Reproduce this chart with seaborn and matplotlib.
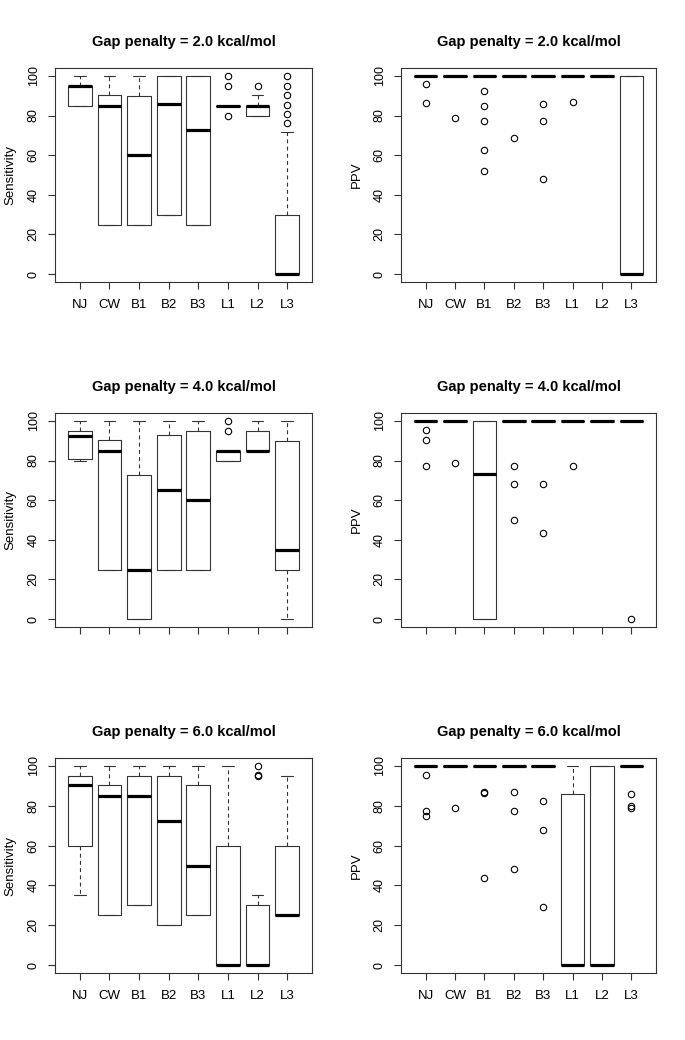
import matplotlib
matplotlib.use("Agg")
import matplotlib.pyplot as plt
import seaborn as sns

sns.set_style("ticks")
plt.rcParams['font.family'] = ['Liberation Sans', 'DejaVu Sans']
plt.rcParams['text.color'] = 'black'
plt.rcParams['axes.labelcolor'] = 'black'

methods = ["NJ", "CW", "B1", "B2", "B3", "L1", "L2", "L3"]
titles = ["Gap penalty = 2.0 kcal/mol", "Gap penalty = 4.0 kcal/mol", "Gap penalty = 6.0 kcal/mol"]
yticks = [0, 20, 40, 60, 80, 100]

# ---- Sensitivity, gap 2.0 ----
sens2_q1 = [85, 25, 25, 30, 25, 85, 80, 0]
sens2_med = [95, 85, 60, 86, 72.5, 85, 85, 0]
sens2_q3 = [95, 90.5, 90, 100, 100, 85, 85, 30]
sens2_lo = [85, 25, 25, 30, 25, 85, 80, 0]
sens2_hi = [100, 100, 100, 100, 100, 85, 90.5, 71.5]
sens2_fl = [[], [], [], [], [], [80, 95, 100], [95], [76, 81, 85.5, 90.5, 95, 100]]

# ---- PPV, gap 2.0 ----
ppv2_q1 = [100, 100, 100, 100, 100, 100, 100, 0]
ppv2_med = [100, 100, 100, 100, 100, 100, 100, 0]
ppv2_q3 = [100, 100, 100, 100, 100, 100, 100, 100]
ppv2_lo = [100, 100, 100, 100, 100, 100, 100, 0]
ppv2_hi = [100, 100, 100, 100, 100, 100, 100, 100]
ppv2_fl = [[86.5, 96], [79], [52, 62.5, 77.5, 85, 92.5], [68.5], [48, 77.5, 86], [87], [], []]

# ---- Sensitivity, gap 4.0 ----
sens4_q1 = [81, 25, 0, 25, 25, 80, 85, 25]
sens4_med = [92.5, 85, 25, 65, 60, 85, 85, 35]
sens4_q3 = [95, 90.5, 72.5, 93, 95, 85, 95, 90]
sens4_lo = [80, 25, 0, 25, 25, 80, 85, 0]
sens4_hi = [100, 100, 100, 100, 100, 85, 100, 100]
sens4_fl = [[], [], [], [], [], [95, 100], [], []]

# ---- PPV, gap 4.0 ----
ppv4_q1 = [100, 100, 0, 100, 100, 100, 100, 100]
ppv4_med = [100, 100, 73, 100, 100, 100, 100, 100]
ppv4_q3 = [100, 100, 100, 100, 100, 100, 100, 100]
ppv4_lo = [100, 100, 0, 100, 100, 100, 100, 100]
ppv4_hi = [100, 100, 100, 100, 100, 100, 100, 100]
ppv4_fl = [[77.5, 90.5, 95.5], [79], [], [50, 68, 77.5], [43.5, 68], [77.5], [], [0]]

# ---- Sensitivity, gap 6.0 ----
sens6_q1 = [60, 25, 30, 20, 25, 0, 0, 25]
sens6_med = [90.5, 85, 85, 72.5, 50, 0, 0, 25]
sens6_q3 = [95, 90.5, 95, 95, 90.5, 60, 30, 60]
sens6_lo = [35, 25, 30, 20, 25, 0, 0, 25]
sens6_hi = [100, 100, 100, 100, 100, 100, 35, 95]
sens6_fl = [[], [], [], [], [], [], [95, 95.5, 100], []]

# ---- PPV, gap 6.0 ----
ppv6_q1 = [100, 100, 100, 100, 100, 0, 0, 100]
ppv6_med = [100, 100, 100, 100, 100, 0, 0, 100]
ppv6_q3 = [100, 100, 100, 100, 100, 86, 100, 100]
ppv6_lo = [100, 100, 100, 100, 100, 0, 0, 100]
ppv6_hi = [100, 100, 100, 100, 100, 100, 100, 100]
ppv6_fl = [[75, 77.5, 95.5], [79], [43.5, 86.5, 87], [48, 77.5, 87], [29, 68, 82.5], [], [], [79, 80, 86]]

panels = [
    (sens2_q1, sens2_med, sens2_q3, sens2_lo, sens2_hi, sens2_fl, "Sensitivity", titles[0], True),
    (ppv2_q1, ppv2_med, ppv2_q3, ppv2_lo, ppv2_hi, ppv2_fl, "PPV", titles[0], True),
    (sens4_q1, sens4_med, sens4_q3, sens4_lo, sens4_hi, sens4_fl, "Sensitivity", titles[1], False),
    (ppv4_q1, ppv4_med, ppv4_q3, ppv4_lo, ppv4_hi, ppv4_fl, "PPV", titles[1], False),
    (sens6_q1, sens6_med, sens6_q3, sens6_lo, sens6_hi, sens6_fl, "Sensitivity", titles[2], True),
    (ppv6_q1, ppv6_med, ppv6_q3, ppv6_lo, ppv6_hi, ppv6_fl, "PPV", titles[2], True),
]

W, H = 685, 1040
fig = plt.figure(figsize=(W / 100, H / 100), dpi=100)
fig.patch.set_facecolor("white")

col_x = [(55, 312), (401, 656)]
row_y = [(68, 282), (413, 627), (758, 973)]

for i, (q1, med, q3, lo, hi, fl, ylab, title, show_x) in enumerate(panels):
    r, c = divmod(i, 2)
    x0, x1 = col_x[c]
    y0, y1 = row_y[r]
    ax = fig.add_axes([x0 / W, 1 - y1 / H, (x1 - x0) / W, (y1 - y0) / H])
    ax.set_facecolor("white")
    stats = []
    for k in range(len(methods)):
        stats.append(dict(med=med[k], q1=q1[k], q3=q3[k], whislo=lo[k], whishi=hi[k],
                          fliers=fl[k], label=methods[k]))
    ax.bxp(stats, positions=list(range(1, len(methods) + 1)), widths=0.8,
           capwidths=0.4, showfliers=True, patch_artist=False,
           boxprops=dict(color="#333333", linewidth=0.8),
           medianprops=dict(color="black", linewidth=2.3, solid_capstyle="butt"),
           whiskerprops=dict(color="#333333", linewidth=0.8, linestyle=(0, (3.5, 3))),
           capprops=dict(color="#333333", linewidth=0.8),
           flierprops=dict(marker="o", markersize=4.6, markerfacecolor="none",
                           markeredgecolor="black", markeredgewidth=0.8, linestyle="none"))
    ax.set_xlim(0.16, 8.84)
    ax.set_ylim(-4, 104)
    ax.set_yticks(yticks)
    ax.set_yticklabels([str(v) for v in yticks], rotation=90, va="center", fontsize=9)
    ax.set_xticks(list(range(1, len(methods) + 1)))
    if show_x:
        ax.set_xticklabels(methods, fontsize=9.5)
    else:
        ax.set_xticklabels([""] * len(methods))
    ax.tick_params(axis="both", direction="out", length=5, width=0.8, color="#333333",
                   labelcolor="black")
    ax.tick_params(axis="x", pad=7)
    ax.tick_params(axis="y", pad=6)
    for s in ax.spines.values():
        s.set_visible(True)
        s.set_color("#333333")
        s.set_linewidth(0.8)
    ax.set_ylabel(ylab, fontsize=9.5, labelpad=8, color="black")
    ax.set_title(title, fontsize=10.5, fontweight="bold", pad=16, color="black")
    ax.grid(False)

fig.savefig("out.png", dpi=100, facecolor="white")
